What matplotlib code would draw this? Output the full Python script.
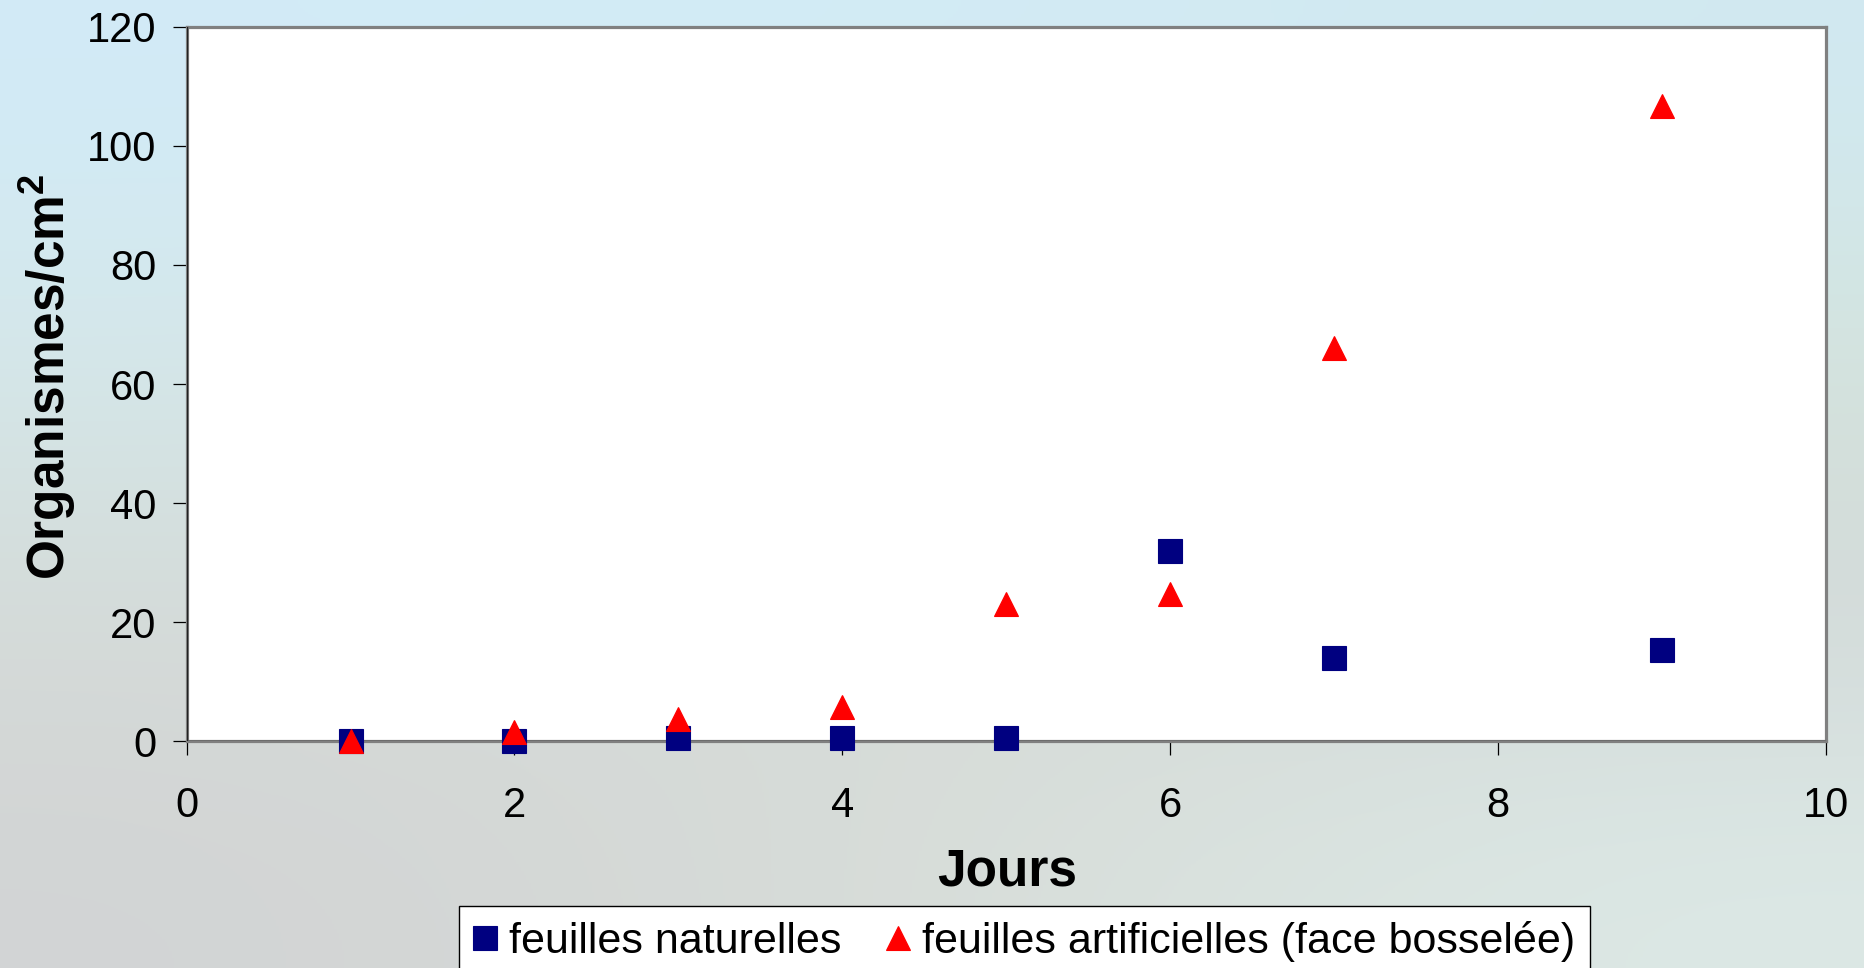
import numpy as np
import matplotlib.pyplot as plt
from matplotlib.colors import to_rgb

# données
jours = [1, 2, 3, 4, 5, 6, 7, 9]
naturelles = [0.0, 0.1, 0.6, 0.6, 0.6, 31.9, 14.0, 15.4]
artificielles = [0.0, 1.6, 3.7, 5.8, 23.1, 24.8, 66.0, 106.7]

x_ticks = [0, 2, 4, 6, 8, 10]
y_ticks = [0, 20, 40, 60, 80, 100, 120]

plt.rcParams['font.family'] = ['Liberation Sans', 'DejaVu Sans']
plt.rcParams['mathtext.fontset'] = 'custom'
plt.rcParams['mathtext.rm'] = 'Liberation Sans'
plt.rcParams['mathtext.bf'] = 'Liberation Sans:bold'

fig = plt.figure(figsize=(18.64, 9.68), dpi=100)

# fond dégradé (façon diapositive)
bg_colors = [
    ['#d2ebf7', '#d3ecf6', '#d1e9f1'],
    ['#d5e8ea', '#d4e4e2', '#d4e4dc'],
    ['#d5dbd8', '#d8dcd8', '#d2d8d8'],
    ['#d2d4d5', '#d8ddd8', '#dce9e6'],
]
grid = np.array([[to_rgb(c) for c in row] for row in bg_colors])
bg = fig.add_axes([0, 0, 1, 1], zorder=-10)
bg.imshow(grid, aspect='auto', interpolation='bicubic', extent=[0, 1, 0, 1])
bg.axis('off')

ax = fig.add_axes([0.1001, 0.2340, 0.8795, 0.7386])
ax.set_facecolor('white')

ax.plot(jours, naturelles, linestyle='none', marker='s', markersize=17,
        color='#000080', mec='#000080', mew=0.8, clip_on=False, zorder=3,
        label='feuilles naturelles')
ax.plot(jours, artificielles, linestyle='none', marker='^', markersize=17,
        color='#ff0000', mec='#ff0000', mew=0.8, clip_on=False, zorder=4,
        label='feuilles artificielles (face bosselée)')

ax.set_xlim(0, 10)
ax.set_ylim(0, 120)
ax.set_xticks(x_ticks)
ax.set_yticks(y_ticks)

for s in ax.spines.values():
    s.set_color('#808080')
    s.set_linewidth(2.3)
ax.axhline(0, color='#222222', lw=1.0, zorder=2.6)
ax.axvline(0, color='#222222', lw=1.0, zorder=2.6)

ax.tick_params(direction='out', length=10, width=0.9, color='black',
               labelsize=30)
ax.tick_params(axis='x', pad=22)
ax.tick_params(axis='y', pad=12)

fig.text(0.5402, 1 - 885 / 968, 'Jours', fontsize=37, fontweight='bold',
         ha='center', va='baseline')
fig.text(65 / 1864, 1 - 377 / 968, r'Organismes/cm$^\mathbf{2}$', fontsize=37,
         fontweight='bold', rotation=90, rotation_mode='anchor',
         ha='center', va='baseline')

leg = ax.legend(loc='upper left', bbox_to_anchor=(459 / 1864, 1 - 906 / 968),
                bbox_transform=fig.transFigure, ncol=2, fontsize=31,
                handlelength=0.5, handletextpad=0.32, columnspacing=1.05,
                borderpad=0.35, borderaxespad=0, fancybox=False,
                framealpha=1, edgecolor='black')
leg.get_frame().set_linewidth(1.0)

fig.savefig('out.png', dpi=100)
